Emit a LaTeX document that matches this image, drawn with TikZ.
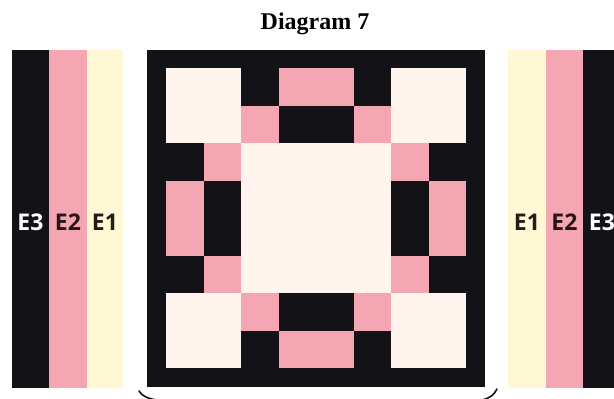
\documentclass[tikz,border=0pt]{standalone}
\usepackage{fontspec}
\newfontfamily\labfont{Open Sans}
\newfontfamily\titlefont{Liberation Serif}
\definecolor{qblack}{HTML}{131217}
\definecolor{qpink}{HTML}{F4A7B2}
\definecolor{qcream}{HTML}{FFF5EE}
\definecolor{qyellow}{HTML}{FFF8D5}
\definecolor{qmaroon}{HTML}{2A1418}
\definecolor{qdark}{HTML}{231D18}
\newcommand{\qcell}[5]{\fill[#5] ({166+37.5*#1},{68+37.5*#2}) rectangle ++({37.5*#3},{37.5*#4});}
\begin{document}
\begin{tikzpicture}[x=1pt,y=-1pt,
  lab/.style={font=\labfont\bfseries\fontsize{23}{26}\selectfont, inner sep=0pt},
  ttl/.style={font=\titlefont\bfseries\fontsize{24}{28}\selectfont, inner sep=0pt}]
\useasboundingbox (0,0) rectangle (614,399);
\fill[white] (0,0) rectangle (614,399);
% title
\node[ttl, anchor=base] (title) at (315,29) {Diagram 7};
% left stripes
\fill[qblack] (12,50) rectangle (49,388);
\fill[qpink] (49,50) rectangle (87,388);
\fill[qyellow] (87,50) rectangle (123,388);
\node[lab, text=white] (l3) at (30.5,222) {E3};
\node[lab, text=qmaroon] (l2) at (68,222) {E2};
\node[lab, text=qdark] (l1) at (105,222) {E1};
% right stripes
\fill[qyellow] (508,50) rectangle (546,388);
\fill[qpink] (546,50) rectangle (583,388);
\fill[qblack] (583,50) rectangle (622,388);
\node[lab, text=qdark] (r1) at (527,222) {E1};
\node[lab, text=qmaroon] (r2) at (564.5,222) {E2};
\node[lab, text=white] (r3) at (602,222) {E3};
% main block
\fill[qblack] (147,50) rectangle (485,387);
% cream corners and centre
\qcell{0}{0}{2}{2}{qcream}
\qcell{6}{0}{2}{2}{qcream}
\qcell{0}{6}{2}{2}{qcream}
\qcell{6}{6}{2}{2}{qcream}
\qcell{2}{2}{4}{4}{qcream}
% pink cells
\qcell{3}{0}{2}{1}{qpink}
\qcell{2}{1}{1}{1}{qpink}
\qcell{5}{1}{1}{1}{qpink}
\qcell{1}{2}{1}{1}{qpink}
\qcell{6}{2}{1}{1}{qpink}
\qcell{0}{3}{1}{2}{qpink}
\qcell{7}{3}{1}{2}{qpink}
\qcell{1}{5}{1}{1}{qpink}
\qcell{6}{5}{1}{1}{qpink}
\qcell{2}{6}{1}{1}{qpink}
\qcell{5}{6}{1}{1}{qpink}
\qcell{3}{7}{2}{1}{qpink}
% brace ends
\draw[qblack, line width=1.6pt, line cap=round] (139,391) .. controls (142,396) and (147,398) .. (156,400);
\draw[qblack, line width=1.6pt, line cap=round] (497,389) .. controls (494,395) and (490,398) .. (482,400);
\end{tikzpicture}
\end{document}
